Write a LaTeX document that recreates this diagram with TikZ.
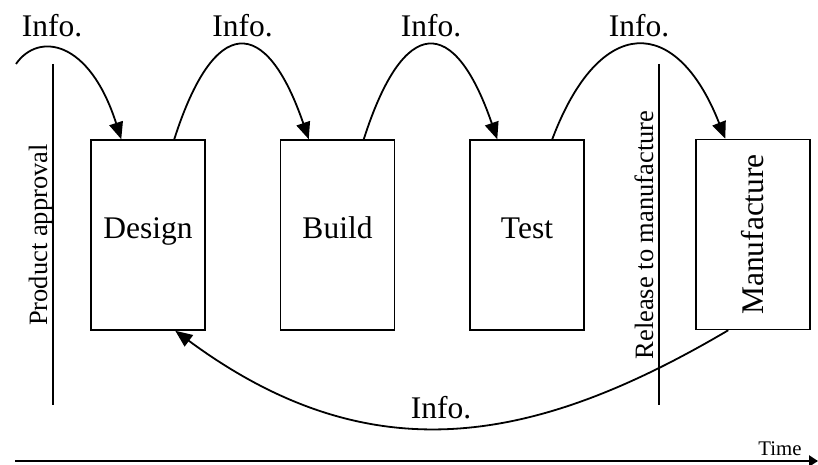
\documentclass[tikz,border=0pt]{standalone}
\usepackage{fontspec}
\usepackage{graphicx}
\setmainfont{Liberation Serif}
\usetikzlibrary{arrows.meta}

\begin{document}
\begin{tikzpicture}[x=1pt,y=-1pt,
    stage/.style={draw, line width=1.5pt, inner sep=0pt,
      minimum width=114pt, minimum height=190pt,
      font=\fontsize{31.5}{36}\selectfont,
      text height=0.82em, text depth=0.2em},
    infotext/.style={font=\fontsize{31.5}{36}\selectfont, anchor=base, inner sep=0pt},
    milestone/.style={font=\fontsize{26.5}{30}\selectfont, anchor=base, rotate=90, inner sep=0pt},
    gate/.style={line width=1.7pt},
    flow/.style={line width=1.8pt, -{Triangle[length=17pt,width=14pt]}},
  ]
  \useasboundingbox (0,0) rectangle (818,465);

  % process stages
  \node[stage] (design) at (148,235) {Design};
  \node[stage] (build)  at (337.5,235) {Build};
  \node[stage] (test)   at (527,235) {Test};
  \node[stage, text height=, text depth=] (manu) at (753,234.5) {\rotatebox{90}{Manufacture}};

  % milestone lines
  \coordinate (pa-top) at (53,64);
  \coordinate (pa-bot) at (53,405);
  \coordinate (rm-top) at (659,64);
  \coordinate (rm-bot) at (659,405);
  \draw[gate] (pa-top) -- (pa-bot);
  \draw[gate] (rm-top) -- (rm-bot);
  \node[milestone] (pa) at (47,235) {Product approval};
  \node[milestone] (rm) at (653,235) {Release to manufacture};

  % information hand-offs
  \coordinate (in0) at (16,64);
  \draw[flow] (in0) .. controls +(22,-32) and +(-32,-100) .. ([xshift=31pt]design.north west);
  \draw[flow] ([xshift=84pt]design.north west) .. controls +(40,-125) and +(-43,-125) .. ([xshift=29pt]build.north west);
  \draw[flow] ([xshift=84pt]build.north west) .. controls +(40,-125) and +(-43,-125) .. ([xshift=28pt]test.north west);
  \draw[flow] ([xshift=83pt]test.north west) .. controls +(47,-125) and +(-49,-125) .. ([xshift=30pt]manu.north west);
  \draw[flow] ([xshift=33pt]manu.south west) .. controls +(-195,115) and +(195,144) .. ([xshift=85pt]design.south west);

  \node[infotext] (i1) at (52,37) {Info.};
  \node[infotext] (i2) at (242.5,37) {Info.};
  \node[infotext] (i3) at (431,37) {Info.};
  \node[infotext] (i4) at (639,37) {Info.};
  \node[infotext] (i5) at (441,418) {Info.};

  % time axis
  \coordinate (t0) at (15,461);
  \coordinate (t1) at (818,461);
  \draw[line width=2.2pt, -{Triangle[length=9pt,width=11pt]}] (t0) -- (t1);
  \node[font=\fontsize{20.8}{24}\selectfont, anchor=base, inner sep=0pt] (time) at (780,455) {Time};
\end{tikzpicture}
\end{document}
